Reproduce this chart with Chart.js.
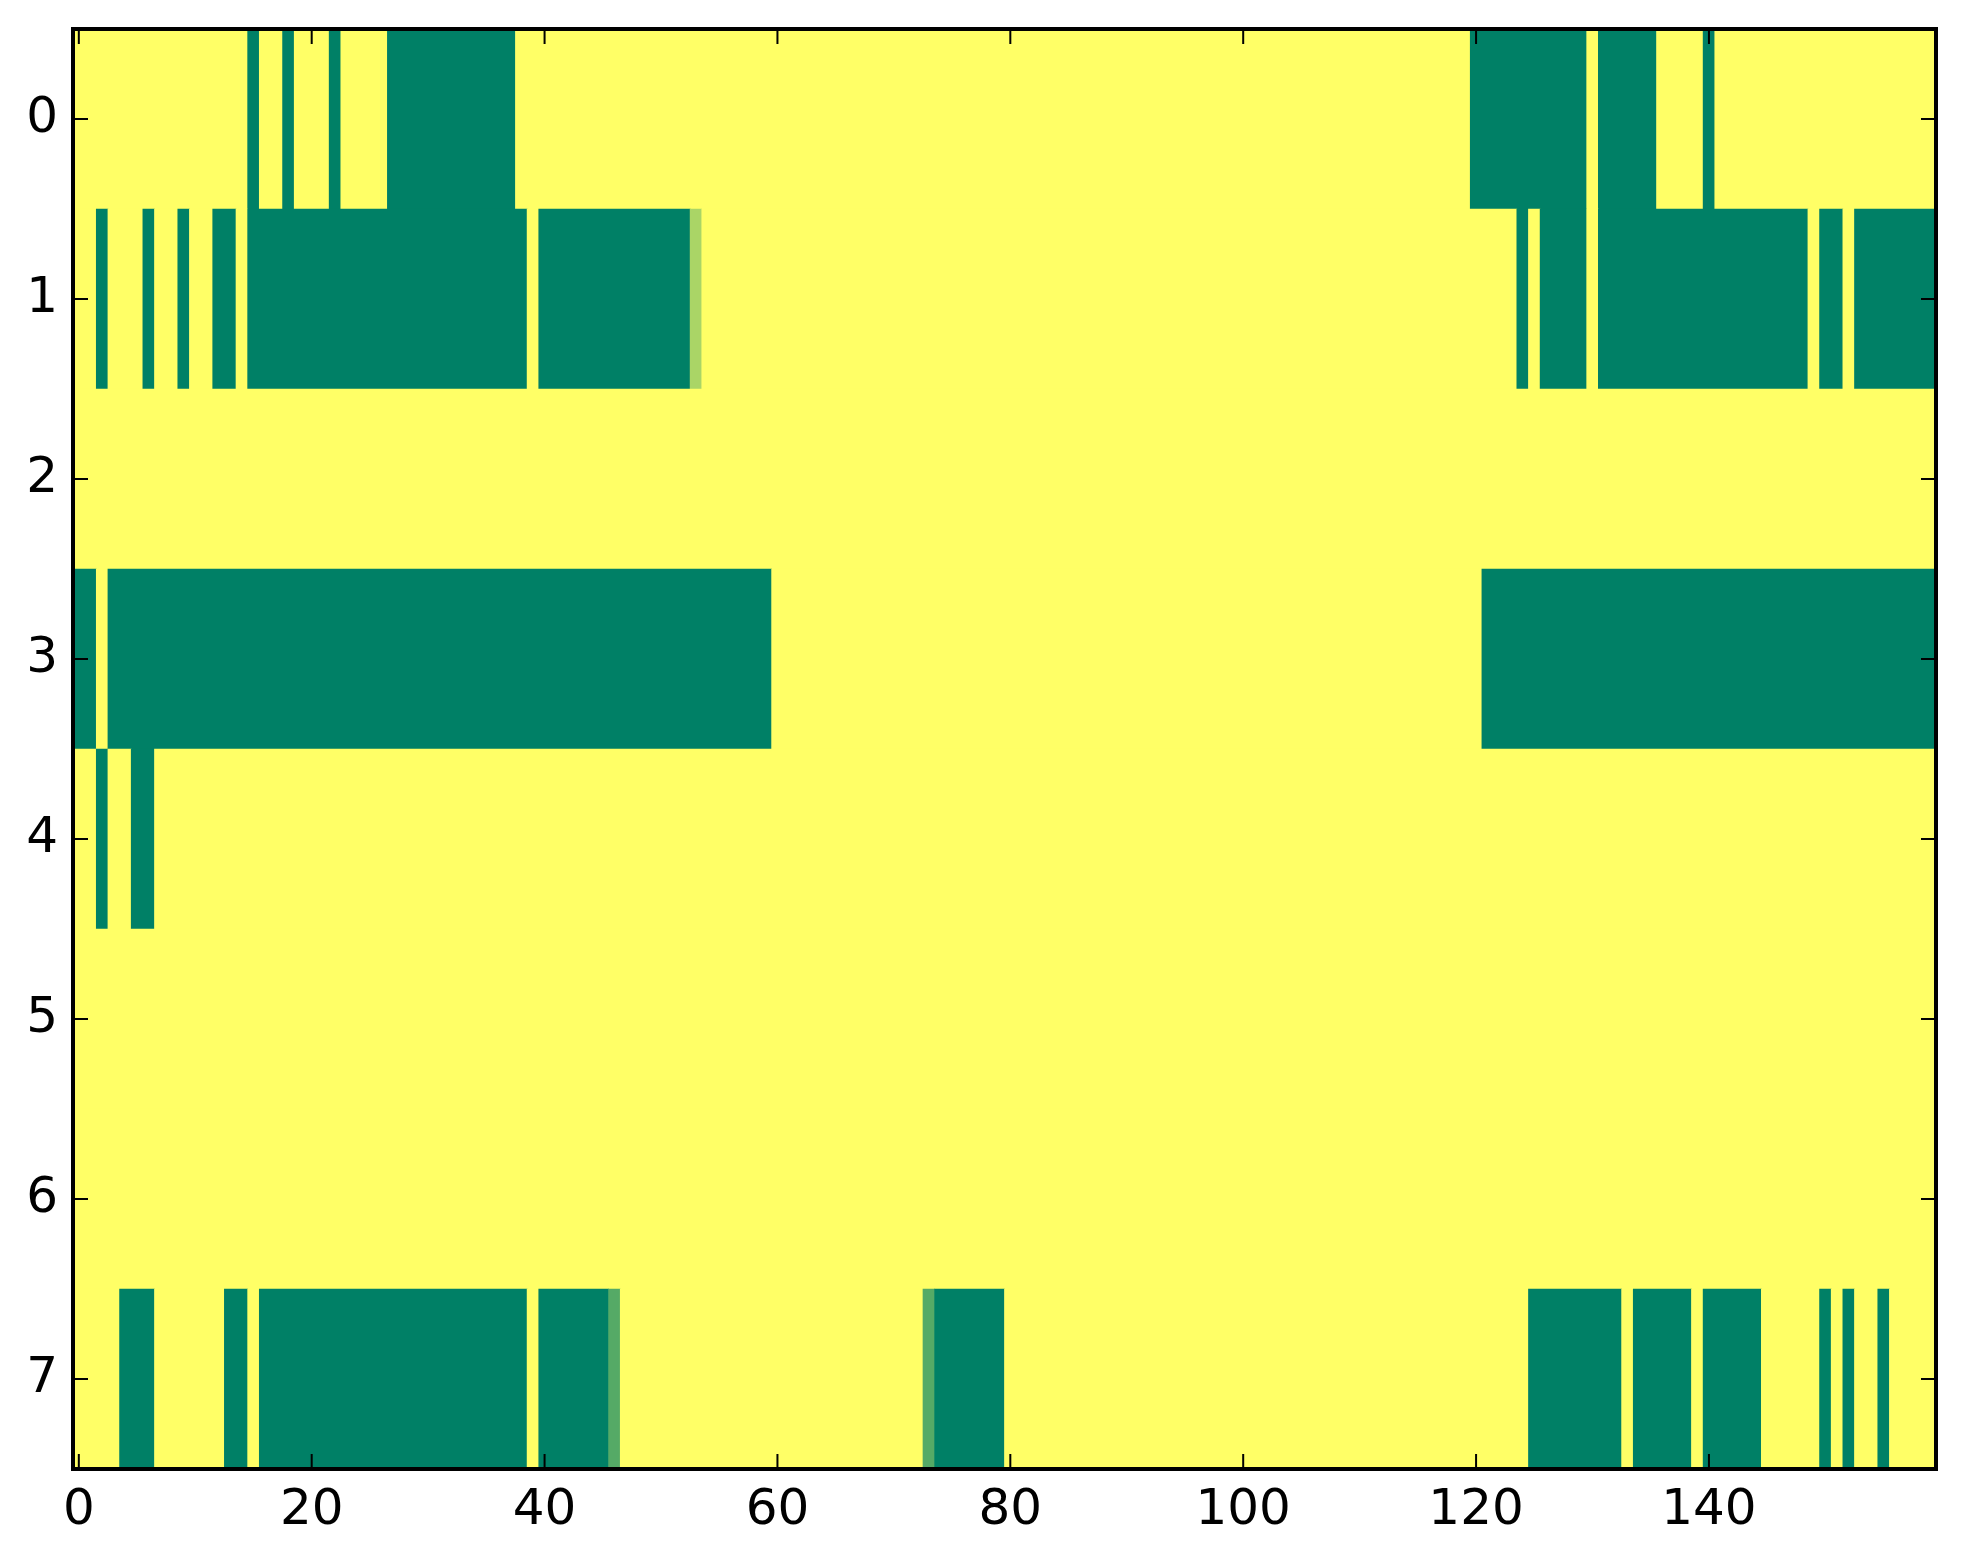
<!DOCTYPE html>
<html>
<head>
<meta charset="utf-8">
<script src="https://cdn.jsdelivr.net/npm/chart.js@4/dist/chart.umd.min.js"></script>
<style>
  html, body { margin: 0; padding: 0; background: #ffffff; }
  canvas { display: block; }
</style>
</head>
<body>
<canvas id="c" width="1963" height="1564" style="width:1963px;height:1564px"></canvas>
<script>
// ---- data ----
// each row: runs of [firstColumn, lastColumn, value]  (value in 0..1, 'summer' colormap)
const rowLabels = ['0', '1', '2', '3', '4', '5', '6', '7'];
const xTickValues = [0, 20, 40, 60, 80, 100, 120, 140];
const nColumns = 160;

const row0 = [[0,14,1],[15,15,0],[16,17,1],[18,18,0],[19,21,1],[22,22,0],[23,26,1],[27,37,0],[38,119,1],[120,129,0],[130,130,1],[131,135,0],[136,139,1],[140,140,0],[141,159,1]];
const row1 = [[0,1,1],[2,2,0],[3,5,1],[6,6,0],[7,8,1],[9,9,0],[10,11,1],[12,13,0],[14,14,1],[15,38,0],[39,39,1],[40,52,0],[53,53,0.667],[54,123,1],[124,124,0],[125,125,1],[126,129,0],[130,130,1],[131,148,0],[149,149,1],[150,151,0],[152,152,1],[153,159,0]];
const row2 = [[0,159,1]];
const row3 = [[0,1,0],[2,2,1],[3,59,0],[60,120,1],[121,159,0]];
const row4 = [[0,1,1],[2,2,0],[3,4,1],[5,6,0],[7,159,1]];
const row5 = [[0,159,1]];
const row6 = [[0,159,1]];
const row7 = [[0,3,1],[4,6,0],[7,12,1],[13,14,0],[15,15,1],[16,38,0],[39,39,1],[40,45,0],[46,46,0.333],[47,72,1],[73,73,0.333],[74,79,0],[80,124,1],[125,132,0],[133,133,1],[134,138,0],[139,139,1],[140,144,0],[145,149,1],[150,150,0],[151,151,1],[152,152,0],[153,154,1],[155,155,0],[156,159,1]];
const rows = [row0, row1, row2, row3, row4, row5, row6, row7];

// matplotlib 'summer' colormap
function summer(v) {
  const r = Math.round(255 * v);
  const g = Math.round(255 * (0.5 + 0.5 * v));
  return 'rgb(' + r + ',' + g + ',102)';
}

const cells = [];
rows.forEach((runs, ri) => {
  runs.forEach(([a, b, v]) => {
    cells.push({ y: rowLabels[ri], x: [a - 0.5, b + 0.5], v: v });
  });
});

const FONT = { family: 'DejaVu Sans', size: 50 };

const framePlugin = {
  id: 'frame',
  afterDraw(chart) {
    const { ctx, chartArea: ca, scales } = chart;
    ctx.save();
    ctx.strokeStyle = '#000';
    // ticks (inside, on all four sides)
    ctx.lineWidth = 2;
    const tl = 15;
    ctx.beginPath();
    xTickValues.forEach(v => {
      const px = scales.x.getPixelForValue(v);
      ctx.moveTo(px, ca.bottom); ctx.lineTo(px, ca.bottom - tl);
      ctx.moveTo(px, ca.top); ctx.lineTo(px, ca.top + tl);
    });
    rowLabels.forEach((lab, i) => {
      const py = scales.y.getPixelForValue(i);
      ctx.moveTo(ca.left, py); ctx.lineTo(ca.left + tl, py);
      ctx.moveTo(ca.right, py); ctx.lineTo(ca.right - tl, py);
    });
    ctx.stroke();
    // frame
    ctx.lineWidth = 4;
    ctx.strokeRect(ca.left, ca.top, ca.right - ca.left, ca.bottom - ca.top);
    ctx.restore();
  }
};

new Chart(document.getElementById('c'), {
  type: 'bar',
  data: {
    labels: rowLabels,
    datasets: [{
      data: cells,
      backgroundColor: (c) => summer(c.raw ? c.raw.v : 1),
      borderWidth: 0,
      borderSkipped: false,
      barPercentage: 1.0,
      categoryPercentage: 1.0,
      grouped: false
    }]
  },
  options: {
    indexAxis: 'y',
    responsive: false,
    devicePixelRatio: 1,
    animation: false,
    layout: { padding: { top: 29, right: 27, left: 0, bottom: 0 } },
    plugins: { legend: { display: false }, tooltip: { enabled: false } },
    scales: {
      x: {
        type: 'linear',
        min: -0.5,
        max: nColumns - 0.5,
        position: 'bottom',
        grid: { display: false, drawTicks: false },
        border: { display: false },
        afterBuildTicks: (s) => { s.ticks = xTickValues.map(v => ({ value: v })); },
        afterFit: (s) => { s.height = 95; s.paddingLeft = 0; s.paddingRight = 0; },
        ticks: { font: FONT, color: '#000', padding: 12, maxRotation: 0, autoSkip: false,
                 callback: (v) => String(v) }
      },
      y: {
        type: 'category',
        labels: rowLabels,
        offset: true,
        grid: { display: false, drawTicks: false },
        border: { display: false },
        afterFit: (s) => { s.width = 73; s.paddingTop = 0; s.paddingBottom = 0; },
        ticks: { font: FONT, color: '#000', padding: 15, autoSkip: false }
      }
    }
  },
  plugins: [framePlugin]
});
</script>
</body>
</html>
